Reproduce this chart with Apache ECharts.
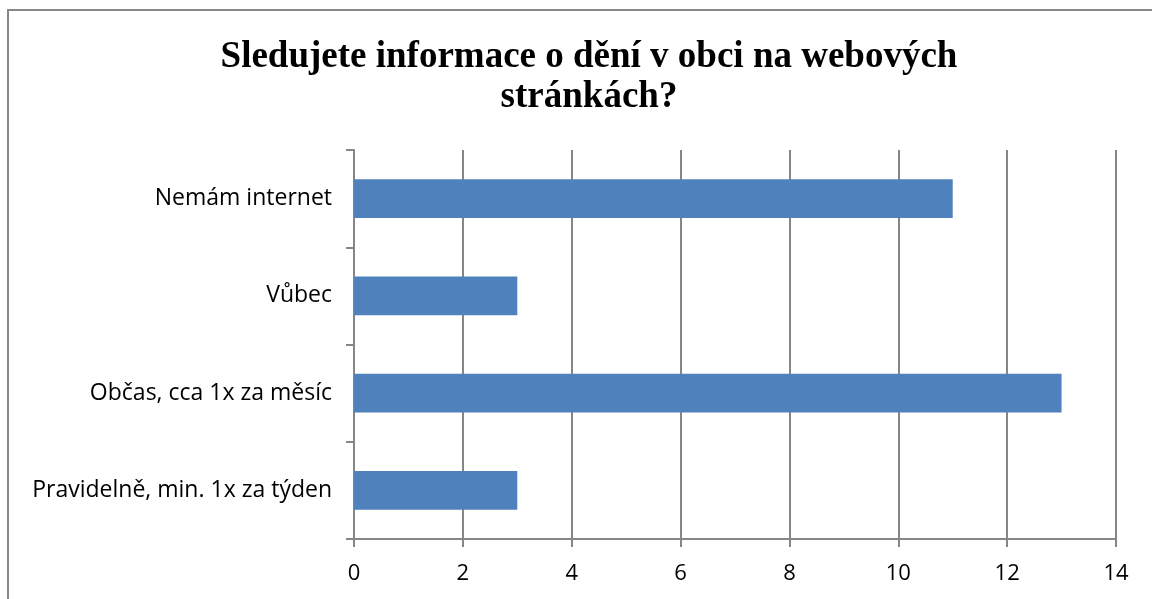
<!DOCTYPE html>
<html>
<head>
<meta charset="utf-8">
<script src="https://cdn.jsdelivr.net/npm/echarts@6/dist/echarts.min.js"></script>
<style>
  html, body { margin: 0; padding: 0; background: #fff; }
  #main { width: 1152px; height: 599px; }
</style>
</head>
<body>
<div id="main"></div>
<script>
// data (bottom to top, like the y axis)
var categories = ["Pravidelně, min. 1x za týden", "Občas, cca 1x za měsíc", "Vůbec", "Nemám internet"];
var values = [3, 13, 3, 11];
var titleText = "Sledujete informace o dění v obci na webových\nstránkách?";

var myChart = echarts.init(document.getElementById("main"));
myChart.setOption({
  animation: false,
  backgroundColor: "#fff",
  title: {
    text: titleText,
    left: 584,
    textAlign: "center",
    top: 32,
    textStyle: {
      fontFamily: "Liberation Serif",
      fontWeight: "bold",
      fontSize: 37,
      lineHeight: 40,
      color: "#000"
    }
  },
  graphic: [
    {
      type: "rect",
      shape: { x: 8, y: 10, width: 1160, height: 620 },
      style: { fill: "none", stroke: "#888", lineWidth: 2 },
      silent: true
    }
  ],
  grid: {
    left: 354,
    right: 36,
    top: 150,
    bottom: 60
  },
  xAxis: {
    type: "value",
    min: 0,
    max: 14,
    interval: 2,
    axisLine: { show: true, lineStyle: { color: "#868686", width: 2 } },
    axisTick: { show: true, length: 8, lineStyle: { color: "#868686", width: 2 } },
    splitLine: { show: true, lineStyle: { color: "#868686", width: 2 } },
    axisLabel: {
      fontFamily: "Open Sans",
      fontSize: 22,
      color: "#000",
      margin: 24
    }
  },
  yAxis: {
    type: "category",
    data: categories,
    axisLine: { show: true, lineStyle: { color: "#868686", width: 2 } },
    axisTick: { show: true, length: 8, lineStyle: { color: "#868686", width: 2 } },
    axisLabel: {
      fontFamily: "Open Sans",
      fontSize: 23,
      color: "#000",
      margin: 22
    }
  },
  series: [
    {
      type: "bar",
      data: values,
      barCategoryGap: "60%",
      itemStyle: { color: "#4F81BD" }
    }
  ]
});
</script>
</body>
</html>
